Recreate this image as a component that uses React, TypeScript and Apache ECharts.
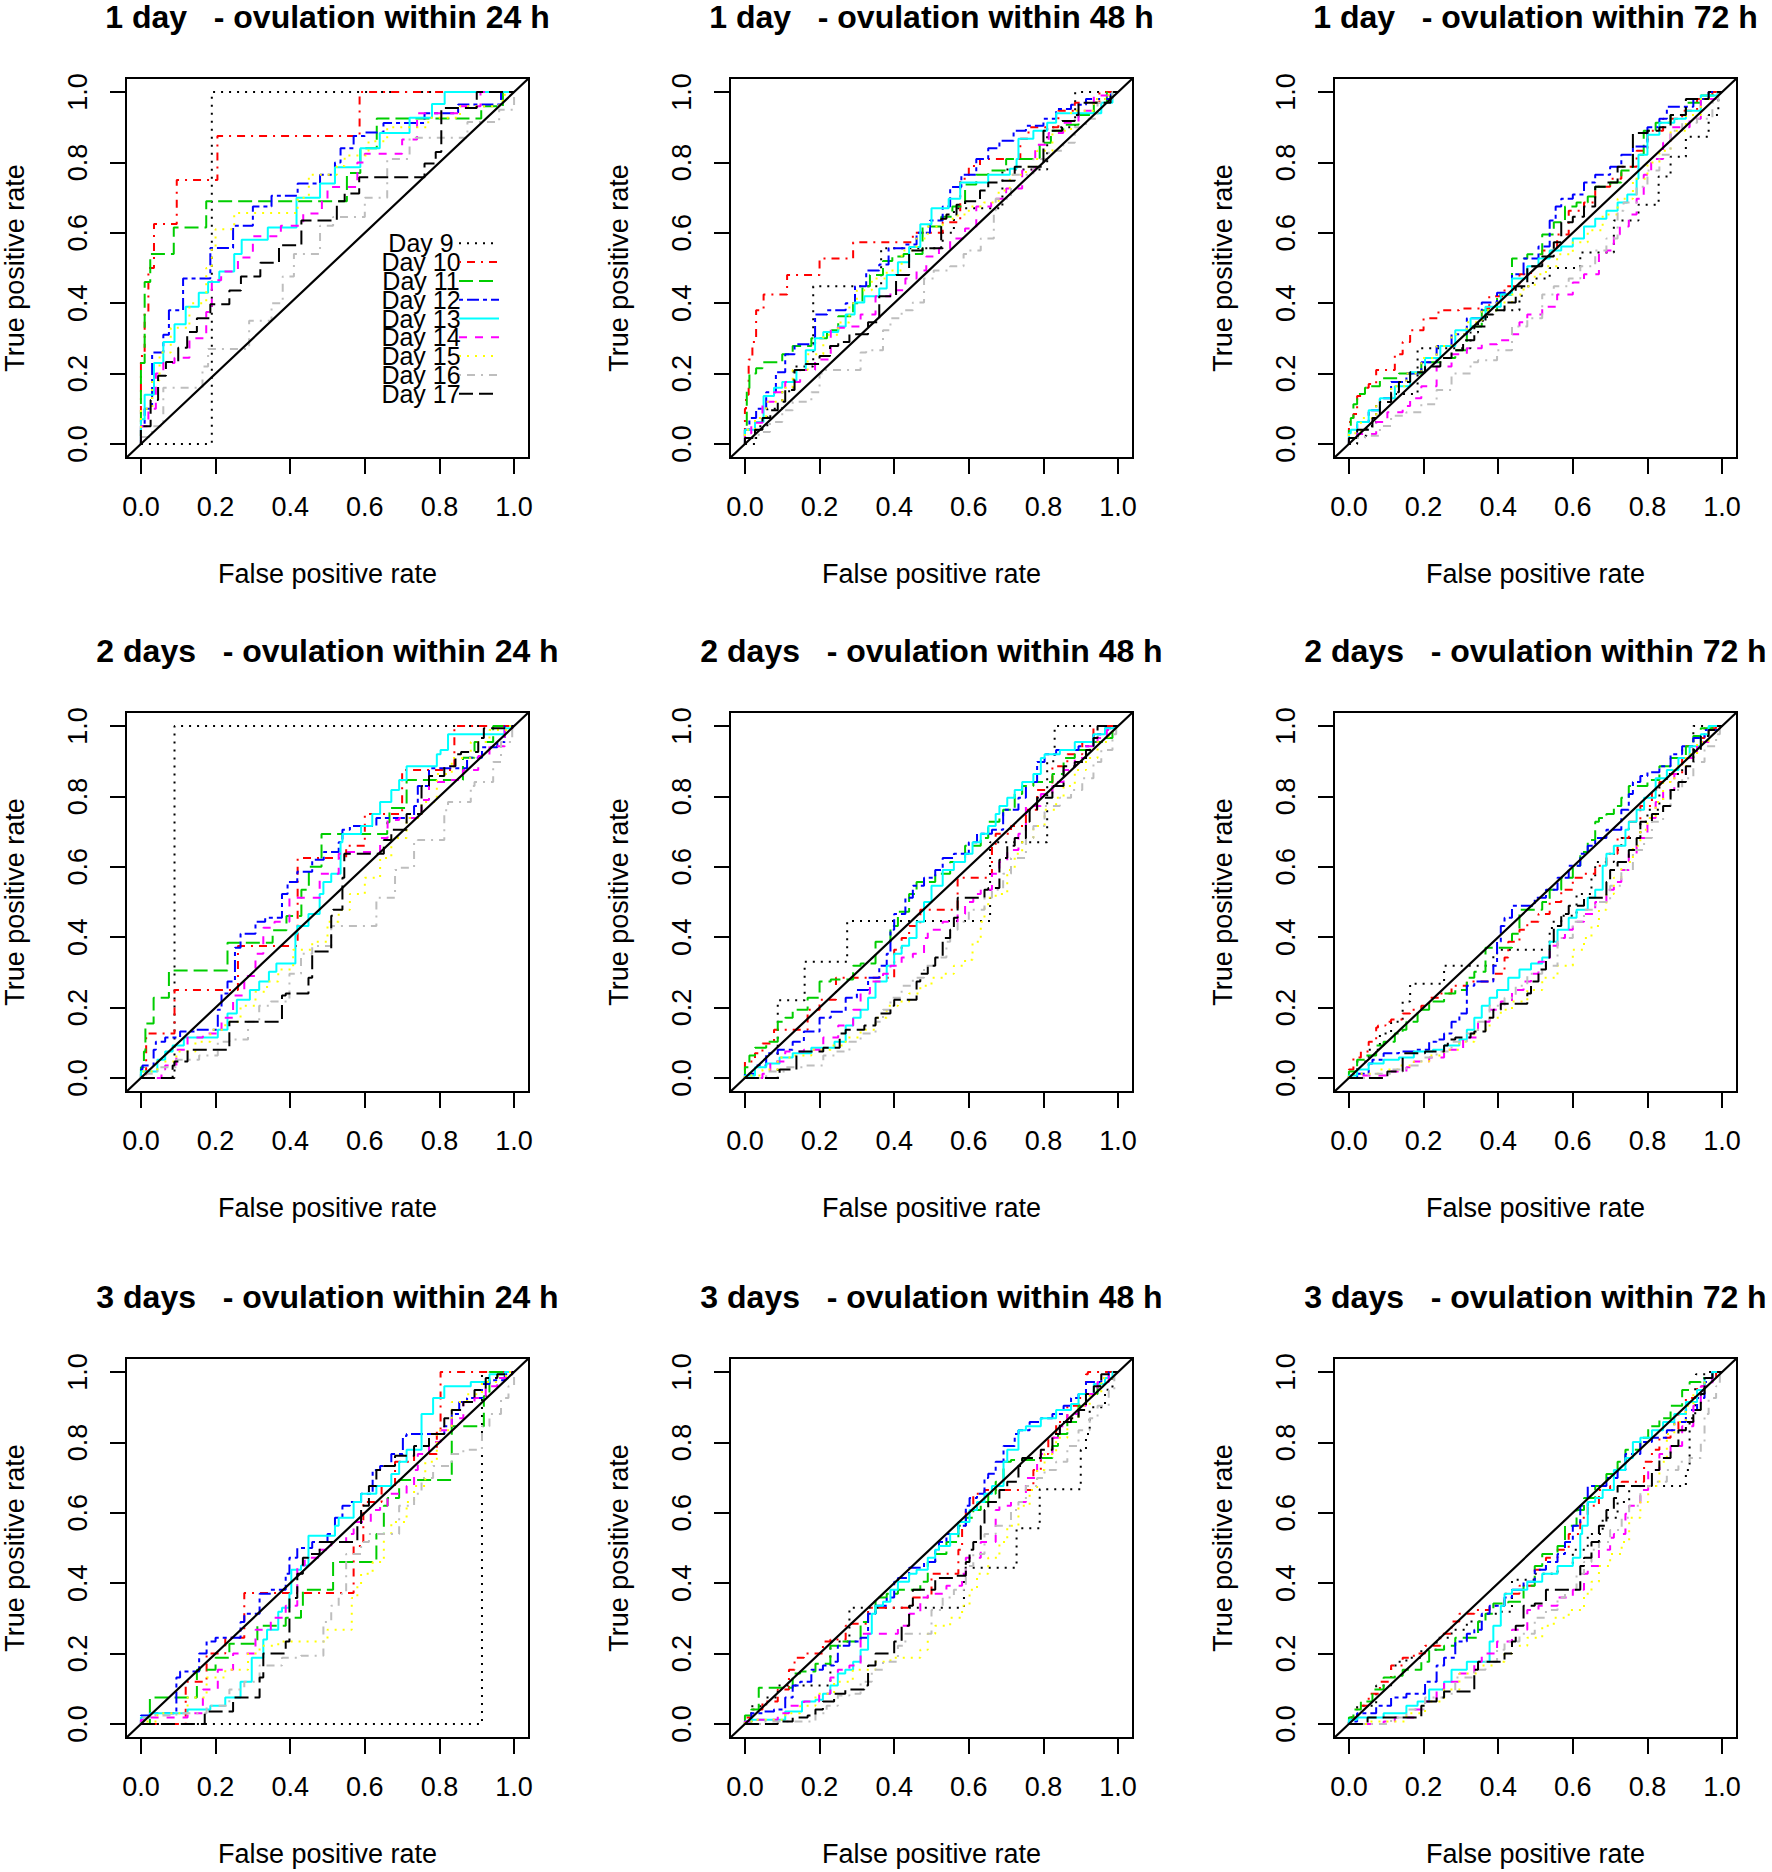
import React, { useEffect, useRef } from "react";
import * as echarts from "echarts";

// ---------- labels ----------
const dayNames = ["Day 9", "Day 10", "Day 11", "Day 12", "Day 13", "Day 14", "Day 15", "Day 16", "Day 17"];
const panelTitles = [
  "1 day   - ovulation within 24 h", "1 day   - ovulation within 48 h", "1 day   - ovulation within 72 h",
  "2 days   - ovulation within 24 h", "2 days   - ovulation within 48 h", "2 days   - ovulation within 72 h",
  "3 days   - ovulation within 24 h", "3 days   - ovulation within 48 h", "3 days   - ovulation within 72 h",
];
const tickValues = [0, 0.2, 0.4, 0.6, 0.8, 1.0];
const xAxisTitle = "False positive rate";
const yAxisTitle = "True positive rate";

// ---------- ROC curves: flat [fpr, tpr, ...] step vertices, one list per day ----------
const roc1d24 = [
  [0,0, 0.19,0, 1,1],
  [0,0, 0.01,0.25, 0.02,0.375, 0.035,0.5, 0.096,0.625, 0.205,0.75, 0.586,0.875, 1,1],
  [0,0, 0.01,0.23, 0.025,0.46, 0.088,0.54, 0.175,0.615, 0.552,0.69, 0.588,0.77, 0.632,0.84, 0.912,0.925, 0.97,0.96, 1,1],
  [0,0, 0.01,0.05, 0.03,0.1, 0.06,0.26, 0.075,0.31, 0.113,0.38, 0.186,0.47, 0.247,0.557, 0.3,0.62, 0.35,0.675, 0.42,0.705, 0.48,0.74, 0.52,0.765, 0.535,0.8, 0.57,0.84, 0.6,0.875, 0.65,0.885, 0.76,0.912, 0.85,0.94, 0.965,0.965, 1,1],
  [0,0, 0.01,0.07, 0.035,0.14, 0.06,0.23, 0.09,0.29, 0.12,0.34, 0.155,0.39, 0.18,0.43, 0.21,0.46, 0.25,0.49, 0.27,0.54, 0.34,0.58, 0.417,0.615, 0.48,0.7, 0.52,0.74, 0.588,0.786, 0.64,0.84, 0.72,0.884, 0.78,0.927, 0.814,0.966, 1,1],
  [0,0, 0.02,0.05, 0.04,0.1, 0.06,0.2, 0.09,0.23, 0.13,0.245, 0.175,0.3, 0.19,0.375, 0.215,0.465, 0.26,0.49, 0.3,0.53, 0.375,0.59, 0.435,0.62, 0.485,0.655, 0.5,0.69, 0.58,0.73, 0.6,0.8, 0.7,0.825, 0.74,0.865, 0.855,0.94, 0.91,0.96, 1,1],
  [0,0, 0.03,0.1, 0.05,0.18, 0.08,0.26, 0.13,0.33, 0.175,0.4, 0.19,0.5, 0.2,0.555, 0.25,0.61, 0.42,0.656, 0.45,0.7, 0.525,0.765, 0.546,0.79, 0.61,0.82, 0.66,0.86, 0.77,0.9, 0.855,0.927, 0.96,0.96, 0.975,0.975, 1,1],
  [0,0, 0.03,0.02, 0.06,0.05, 0.165,0.16, 0.18,0.22, 0.29,0.27, 0.35,0.35, 0.38,0.4, 0.41,0.476, 0.48,0.54, 0.515,0.62, 0.6,0.645, 0.66,0.7, 0.72,0.81, 0.875,0.87, 0.96,0.915, 1,0.95, 1,1],
  [0,0, 0.026,0.05, 0.046,0.125, 0.067,0.194, 0.1,0.233, 0.124,0.273, 0.15,0.318, 0.186,0.357, 0.237,0.397, 0.268,0.436, 0.32,0.476, 0.37,0.515, 0.43,0.565, 0.525,0.635, 0.546,0.69, 0.585,0.712, 0.76,0.758, 0.79,0.797, 0.805,0.83, 0.9,0.955, 1,1],
];

const roc1d48 = [
  [0,0, 0.03,0, 0.06,0.05, 0.1,0.1, 0.13,0.15, 0.183,0.22, 0.365,0.448, 0.53,0.556, 0.56,0.6, 0.69,0.67, 0.81,0.78, 0.885,0.9, 1,1],
  [0,0, 0.003,0.1, 0.01,0.14, 0.02,0.24, 0.03,0.29, 0.05,0.38, 0.113,0.425, 0.2,0.48, 0.29,0.527, 0.45,0.573, 0.53,0.6, 0.577,0.63, 0.6,0.754, 0.63,0.79, 0.738,0.81, 0.76,0.867, 0.84,0.9, 0.884,0.947, 0.95,0.97, 1,1],
  [0,0, 0.005,0.05, 0.012,0.15, 0.03,0.2, 0.047,0.215, 0.1,0.232, 0.128,0.255, 0.178,0.278, 0.22,0.3, 0.25,0.323, 0.29,0.363, 0.315,0.4, 0.335,0.448, 0.37,0.48, 0.395,0.52, 0.425,0.533, 0.476,0.54, 0.526,0.618, 0.556,0.646, 0.59,0.675, 0.62,0.737, 0.652,0.765, 0.7,0.777, 0.79,0.81, 0.82,0.856, 0.853,0.89, 0.894,0.907, 0.935,0.935, 0.97,0.97, 1,1],
  [0,0, 0.012,0.04, 0.03,0.074, 0.057,0.1, 0.083,0.147, 0.108,0.204, 0.133,0.255, 0.188,0.283, 0.22,0.368, 0.27,0.38, 0.295,0.4, 0.325,0.448, 0.36,0.493, 0.385,0.51, 0.43,0.556, 0.46,0.567, 0.496,0.6, 0.53,0.635, 0.55,0.675, 0.58,0.73, 0.62,0.765, 0.652,0.81, 0.682,0.84, 0.72,0.862, 0.753,0.89, 0.8,0.904, 0.834,0.924, 0.874,0.952, 0.914,0.964, 0.98,0.98, 1,1],
  [0,0, 0.027,0.04, 0.05,0.062, 0.078,0.136, 0.1,0.16, 0.138,0.176, 0.163,0.21, 0.188,0.266, 0.21,0.3, 0.25,0.318, 0.27,0.334, 0.294,0.368, 0.32,0.402, 0.36,0.42, 0.38,0.442, 0.41,0.48, 0.44,0.516, 0.47,0.56, 0.5,0.624, 0.546,0.67, 0.577,0.697, 0.652,0.743, 0.71,0.765, 0.728,0.782, 0.733,0.81, 0.773,0.867, 0.81,0.89, 0.834,0.913, 0.955,0.94, 0.985,0.97, 1,1],
  [0,0, 0.017,0.03, 0.047,0.06, 0.078,0.12, 0.108,0.147, 0.148,0.176, 0.188,0.21, 0.23,0.24, 0.27,0.33, 0.31,0.334, 0.35,0.368, 0.39,0.42, 0.43,0.437, 0.46,0.47, 0.486,0.493, 0.52,0.533, 0.55,0.556, 0.59,0.584, 0.62,0.612, 0.66,0.675, 0.7,0.697, 0.743,0.726, 0.778,0.777, 0.814,0.85, 0.853,0.884, 0.894,0.913, 0.935,0.947, 0.98,0.99, 1,1],
  [0,0, 0.027,0.04, 0.057,0.074, 0.1,0.12, 0.128,0.16, 0.168,0.21, 0.21,0.255, 0.25,0.31, 0.28,0.345, 0.3,0.4, 0.34,0.437, 0.38,0.47, 0.42,0.493, 0.46,0.55, 0.49,0.584, 0.53,0.618, 0.57,0.64, 0.6,0.652, 0.64,0.675, 0.68,0.686, 0.71,0.72, 0.753,0.765, 0.783,0.788, 0.824,0.833, 0.874,0.89, 0.935,0.947, 0.975,0.98, 1,1],
  [0,0, 0.037,0.017, 0.067,0.034, 0.1,0.062, 0.128,0.096, 0.178,0.12, 0.2,0.147, 0.214,0.2, 0.31,0.21, 0.325,0.26, 0.37,0.266, 0.39,0.323, 0.42,0.357, 0.45,0.38, 0.48,0.402, 0.506,0.47, 0.55,0.493, 0.586,0.505, 0.6,0.54, 0.632,0.55, 0.667,0.584, 0.672,0.663, 0.713,0.697, 0.773,0.765, 0.814,0.81, 0.853,0.833, 0.884,0.856, 0.914,0.9, 0.945,0.924, 0.985,0.97, 1,1],
  [0,0, 0.027,0.017, 0.047,0.04, 0.068,0.074, 0.088,0.096, 0.108,0.12, 0.133,0.153, 0.163,0.21, 0.2,0.227, 0.228,0.25, 0.25,0.278, 0.28,0.29, 0.33,0.312, 0.36,0.346, 0.405,0.42, 0.44,0.48, 0.476,0.55, 0.526,0.556, 0.54,0.64, 0.567,0.652, 0.59,0.68, 0.63,0.69, 0.652,0.72, 0.682,0.743, 0.723,0.748, 0.8,0.788, 0.85,0.89, 0.884,0.918, 0.894,0.935, 0.98,0.97, 1,1],
];

const roc1d72 = [
  [0,0, 0.022,0, 0.047,0.023, 0.073,0.051, 0.113,0.119, 0.184,0.142, 0.326,0.272, 0.346,0.317, 0.37,0.35, 0.457,0.38, 0.463,0.414, 0.493,0.448, 0.538,0.47, 0.62,0.5, 0.71,0.544, 0.776,0.635, 0.83,0.68, 0.862,0.76, 0.903,0.816, 0.964,0.873, 0.99,0.935, 1,1],
  [0,0, 0.012,0.062, 0.022,0.085, 0.043,0.136, 0.053,0.16, 0.073,0.17, 0.123,0.21, 0.144,0.255, 0.164,0.29, 0.2,0.323, 0.24,0.357, 0.295,0.38, 0.376,0.385, 0.417,0.42, 0.457,0.448, 0.488,0.482, 0.518,0.505, 0.558,0.55, 0.589,0.595, 0.63,0.663, 0.66,0.686, 0.7,0.731, 0.73,0.754, 0.771,0.788, 0.8,0.833, 0.842,0.89, 0.893,0.924, 0.933,0.947, 0.974,0.98, 1,1],
  [0,0, 0.005,0.045, 0.012,0.074, 0.022,0.113, 0.043,0.142, 0.058,0.16, 0.083,0.164, 0.134,0.187, 0.194,0.2, 0.255,0.232, 0.285,0.244, 0.316,0.266, 0.356,0.334, 0.397,0.38, 0.437,0.425, 0.478,0.527, 0.518,0.539, 0.549,0.595, 0.579,0.63, 0.61,0.675, 0.64,0.686, 0.66,0.703, 0.7,0.731, 0.73,0.743, 0.761,0.777, 0.79,0.822, 0.822,0.89, 0.862,0.913, 0.903,0.935, 0.943,0.97, 0.979,0.99, 1,1],
  [0,0, 0.022,0.017, 0.053,0.062, 0.083,0.096, 0.113,0.13, 0.154,0.176, 0.194,0.2, 0.235,0.232, 0.275,0.278, 0.316,0.312, 0.356,0.357, 0.397,0.402, 0.437,0.43, 0.468,0.482, 0.508,0.527, 0.538,0.561, 0.554,0.635, 0.569,0.675, 0.6,0.697, 0.63,0.709, 0.66,0.743, 0.7,0.765, 0.73,0.788, 0.761,0.822, 0.8,0.845, 0.832,0.9, 0.852,0.924, 0.923,0.958, 0.964,0.98, 0.99,1, 1,1],
  [0,0, 0.005,0.03, 0.022,0.04, 0.053,0.062, 0.083,0.096, 0.123,0.13, 0.164,0.164, 0.204,0.204, 0.245,0.244, 0.285,0.278, 0.326,0.323, 0.366,0.357, 0.407,0.39, 0.437,0.425, 0.478,0.47, 0.508,0.505, 0.538,0.527, 0.569,0.55, 0.6,0.561, 0.63,0.584, 0.66,0.618, 0.69,0.64, 0.72,0.663, 0.746,0.686, 0.771,0.709, 0.776,0.754, 0.8,0.822, 0.832,0.879, 0.872,0.913, 0.903,0.924, 0.943,0.947, 0.988,0.99, 1,1],
  [0,0, 0.022,0.017, 0.073,0.028, 0.103,0.062, 0.144,0.09, 0.164,0.108, 0.194,0.13, 0.235,0.164, 0.275,0.22, 0.316,0.255, 0.356,0.272, 0.397,0.283, 0.437,0.295, 0.457,0.312, 0.478,0.346, 0.518,0.368, 0.558,0.39, 0.6,0.425, 0.63,0.459, 0.67,0.482, 0.69,0.544, 0.71,0.55, 0.726,0.595, 0.75,0.618, 0.771,0.652, 0.79,0.697, 0.81,0.765, 0.842,0.81, 0.862,0.856, 0.913,0.9, 0.943,0.924, 0.984,0.98, 1,1],
  [0,0, 0.032,0.03, 0.073,0.074, 0.113,0.119, 0.154,0.164, 0.194,0.2, 0.235,0.244, 0.275,0.278, 0.316,0.312, 0.356,0.346, 0.397,0.38, 0.437,0.402, 0.468,0.425, 0.498,0.448, 0.528,0.482, 0.558,0.505, 0.6,0.539, 0.64,0.573, 0.68,0.607, 0.72,0.652, 0.761,0.697, 0.8,0.754, 0.832,0.8, 0.862,0.833, 0.903,0.89, 0.943,0.935, 0.984,0.98, 1,1],
  [0,0, 0.043,0.017, 0.083,0.023, 0.113,0.051, 0.154,0.08, 0.194,0.09, 0.235,0.113, 0.275,0.153, 0.326,0.2, 0.346,0.232, 0.397,0.238, 0.437,0.266, 0.478,0.334, 0.518,0.357, 0.549,0.425, 0.589,0.448, 0.62,0.47, 0.66,0.505, 0.69,0.55, 0.72,0.584, 0.736,0.663, 0.771,0.686, 0.8,0.731, 0.832,0.777, 0.862,0.822, 0.893,0.89, 0.933,0.913, 0.974,0.924, 0.99,0.97, 1,1],
  [0,0, 0.022,0.017, 0.063,0.04, 0.083,0.074, 0.113,0.119, 0.134,0.147, 0.164,0.176, 0.204,0.204, 0.245,0.22, 0.275,0.244, 0.306,0.266, 0.336,0.295, 0.366,0.334, 0.387,0.368, 0.417,0.38, 0.447,0.402, 0.478,0.448, 0.518,0.505, 0.549,0.533, 0.569,0.573, 0.6,0.63, 0.63,0.646, 0.66,0.675, 0.69,0.731, 0.72,0.743, 0.761,0.788, 0.8,0.884, 0.832,0.89, 0.862,0.9, 0.903,0.935, 0.964,0.98, 0.984,1, 1,1],
];

const roc2d24 = [
  [0,0, 0.09,0, 1,1],
  [0,0, 0.014,0, 0.09,0.126, 0.26,0.25, 0.42,0.375, 0.55,0.625, 0.6,0.66, 0.7,0.75, 0.84,0.875, 1,1],
  [0,0, 0.008,0.03, 0.012,0.075, 0.034,0.155, 0.075,0.228, 0.232,0.305, 0.353,0.384, 0.39,0.42, 0.43,0.46, 0.45,0.535, 0.484,0.6, 0.66,0.693, 0.666,0.727, 0.712,0.767, 0.863,0.847, 0.894,0.91, 0.944,0.955, 1,1],
  [0,0, 0.004,0.024, 0.034,0.035, 0.04,0.08, 0.065,0.103, 0.105,0.115, 0.146,0.132, 0.206,0.137, 0.216,0.194, 0.232,0.24, 0.252,0.274, 0.267,0.37, 0.307,0.41, 0.333,0.444, 0.378,0.455, 0.393,0.523, 0.419,0.557, 0.459,0.586, 0.49,0.62, 0.53,0.642, 0.54,0.67, 0.56,0.705, 0.631,0.716, 0.732,0.739, 0.742,0.773, 0.772,0.83, 0.788,0.88, 0.874,0.88, 0.914,0.91, 0.955,0.94, 0.975,0.955, 0.995,1, 1,1],
  [0,0, 0.004,0.018, 0.044,0.018, 0.065,0.052, 0.085,0.075, 0.115,0.092, 0.14,0.115, 0.206,0.115, 0.232,0.137, 0.257,0.183, 0.292,0.222, 0.317,0.25, 0.343,0.274, 0.363,0.302, 0.393,0.325, 0.414,0.325, 0.419,0.41, 0.449,0.432, 0.479,0.466, 0.489,0.523, 0.51,0.557, 0.535,0.58, 0.54,0.67, 0.59,0.693, 0.62,0.716, 0.641,0.75, 0.671,0.784, 0.692,0.818, 0.712,0.847, 0.717,0.886, 0.793,0.886, 0.803,0.92, 0.823,0.932, 0.848,0.977, 0.975,0.977, 0.995,0.994, 1,1],
  [0,0, 0.055,0, 0.065,0.024, 0.095,0.035, 0.125,0.08, 0.166,0.115, 0.216,0.126, 0.247,0.171, 0.277,0.234, 0.307,0.29, 0.328,0.353, 0.358,0.427, 0.398,0.444, 0.419,0.512, 0.479,0.512, 0.489,0.58, 0.53,0.58, 0.54,0.637, 0.641,0.642, 0.661,0.682, 0.692,0.733, 0.752,0.739, 0.772,0.79, 0.823,0.841, 0.863,0.847, 0.904,0.875, 0.934,0.915, 0.975,0.943, 0.995,0.989, 1,1],
  [0,0, 0.044,0.018, 0.095,0.047, 0.146,0.075, 0.186,0.103, 0.226,0.137, 0.267,0.16, 0.307,0.205, 0.338,0.245, 0.368,0.274, 0.408,0.308, 0.459,0.364, 0.5,0.387, 0.53,0.444, 0.56,0.478, 0.6,0.523, 0.641,0.569, 0.671,0.625, 0.712,0.682, 0.752,0.739, 0.793,0.784, 0.833,0.864, 0.884,0.909, 0.934,0.955, 0.985,0.989, 1,1],
  [0,0, 0.044,0.012, 0.095,0.03, 0.156,0.052, 0.206,0.064, 0.237,0.103, 0.287,0.109, 0.317,0.16, 0.348,0.205, 0.398,0.217, 0.429,0.296, 0.459,0.353, 0.51,0.375, 0.53,0.432, 0.631,0.432, 0.641,0.512, 0.681,0.512, 0.692,0.591, 0.732,0.597, 0.742,0.67, 0.813,0.676, 0.823,0.761, 0.884,0.784, 0.894,0.83, 0.944,0.841, 0.965,0.898, 0.995,0.955, 1,1],
  [0,0, 0.085,0, 0.09,0.035, 0.125,0.047, 0.13,0.08, 0.237,0.08, 0.247,0.16, 0.378,0.16, 0.388,0.234, 0.449,0.24, 0.459,0.285, 0.464,0.359, 0.51,0.359, 0.515,0.461, 0.54,0.478, 0.545,0.569, 0.59,0.637, 0.651,0.637, 0.671,0.676, 0.712,0.705, 0.752,0.75, 0.772,0.83, 0.813,0.858, 0.843,0.886, 0.858,0.92, 0.904,0.926, 0.919,0.966, 0.995,0.994, 1,1],
];

const roc2d48 = [
  [0,0, 0.088,0, 0.16,0.221, 0.274,0.33, 0.657,0.446, 0.81,0.67, 0.83,0.9, 1,1],
  [0,0, 0.027,0.047, 0.047,0.07, 0.078,0.098, 0.093,0.137, 0.168,0.137, 0.2,0.194, 0.244,0.222, 0.27,0.285, 0.4,0.285, 0.42,0.364, 0.44,0.398, 0.47,0.432, 0.49,0.478, 0.57,0.478, 0.597,0.569, 0.662,0.569, 0.672,0.66, 0.713,0.694, 0.753,0.716, 0.783,0.762, 0.824,0.818, 0.864,0.886, 0.904,0.92, 0.934,0.955, 0.945,1, 1,1],
  [0,0, 0.012,0.03, 0.027,0.064, 0.057,0.086, 0.088,0.103, 0.108,0.16, 0.128,0.171, 0.168,0.194, 0.2,0.228, 0.23,0.274, 0.29,0.28, 0.31,0.319, 0.35,0.325, 0.39,0.387, 0.41,0.432, 0.44,0.472, 0.46,0.523, 0.51,0.557, 0.55,0.58, 0.59,0.614, 0.632,0.66, 0.652,0.682, 0.682,0.728, 0.692,0.739, 0.723,0.762, 0.743,0.807, 0.773,0.83, 0.824,0.841, 0.854,0.864, 0.884,0.909, 0.924,0.932, 0.965,0.955, 0.985,0.966, 1,1],
  [0,0, 0.027,0.012, 0.057,0.035, 0.088,0.07, 0.128,0.08, 0.158,0.103, 0.2,0.132, 0.23,0.171, 0.27,0.188, 0.3,0.228, 0.33,0.25, 0.36,0.285, 0.38,0.319, 0.39,0.353, 0.4,0.421, 0.43,0.466, 0.45,0.512, 0.48,0.546, 0.51,0.569, 0.53,0.591, 0.56,0.625, 0.6,0.637, 0.622,0.67, 0.662,0.694, 0.692,0.705, 0.733,0.762, 0.753,0.796, 0.783,0.841, 0.803,0.898, 0.834,0.92, 0.894,0.932, 0.934,0.943, 0.965,0.977, 0.985,0.994, 1,1],
  [0,0, 0.027,0.007, 0.057,0.03, 0.093,0.041, 0.128,0.058, 0.178,0.07, 0.24,0.086, 0.27,0.103, 0.29,0.149, 0.31,0.171, 0.33,0.194, 0.35,0.228, 0.38,0.274, 0.4,0.319, 0.42,0.353, 0.44,0.376, 0.46,0.398, 0.48,0.444, 0.5,0.5, 0.53,0.546, 0.56,0.591, 0.59,0.614, 0.61,0.637, 0.632,0.67, 0.652,0.694, 0.672,0.716, 0.682,0.75, 0.703,0.773, 0.723,0.796, 0.743,0.818, 0.773,0.841, 0.793,0.864, 0.803,0.909, 0.844,0.92, 0.884,0.932, 0.934,0.955, 0.965,0.977, 0.99,0.994, 1,1],
  [0,0, 0.047,0, 0.068,0.012, 0.108,0.047, 0.158,0.075, 0.21,0.08, 0.25,0.115, 0.29,0.149, 0.31,0.194, 0.335,0.24, 0.37,0.274, 0.39,0.296, 0.42,0.319, 0.45,0.342, 0.48,0.353, 0.49,0.398, 0.53,0.421, 0.57,0.444, 0.59,0.466, 0.612,0.5, 0.632,0.523, 0.662,0.535, 0.682,0.58, 0.703,0.614, 0.733,0.648, 0.753,0.694, 0.793,0.773, 0.824,0.807, 0.854,0.841, 0.884,0.875, 0.914,0.909, 0.945,0.943, 0.97,0.966, 0.99,0.989, 1,1],
  [0,0, 0.047,0.007, 0.088,0.024, 0.128,0.058, 0.178,0.064, 0.23,0.08, 0.27,0.092, 0.31,0.115, 0.35,0.137, 0.38,0.171, 0.41,0.205, 0.44,0.217, 0.47,0.24, 0.5,0.262, 0.53,0.285, 0.56,0.296, 0.59,0.319, 0.61,0.336, 0.632,0.387, 0.642,0.444, 0.652,0.489, 0.672,0.512, 0.703,0.523, 0.723,0.591, 0.743,0.637, 0.773,0.682, 0.803,0.716, 0.834,0.762, 0.854,0.796, 0.884,0.83, 0.914,0.875, 0.945,0.909, 0.975,0.955, 0.995,0.983, 1,1],
  [0,0, 0.057,0, 0.108,0.018, 0.158,0.03, 0.21,0.035, 0.24,0.064, 0.28,0.075, 0.31,0.103, 0.35,0.126, 0.37,0.16, 0.39,0.194, 0.42,0.228, 0.45,0.262, 0.48,0.285, 0.51,0.319, 0.54,0.342, 0.55,0.387, 0.57,0.421, 0.6,0.444, 0.642,0.478, 0.662,0.512, 0.692,0.535, 0.713,0.58, 0.753,0.625, 0.773,0.682, 0.803,0.716, 0.844,0.773, 0.874,0.796, 0.904,0.818, 0.934,0.852, 0.955,0.898, 0.985,0.932, 0.995,0.977, 1,1],
  [0,0, 0.093,0, 0.098,0.024, 0.138,0.024, 0.143,0.075, 0.21,0.075, 0.254,0.086, 0.27,0.126, 0.32,0.137, 0.35,0.149, 0.36,0.171, 0.39,0.183, 0.4,0.205, 0.46,0.222, 0.47,0.274, 0.49,0.296, 0.51,0.319, 0.53,0.342, 0.55,0.398, 0.56,0.421, 0.57,0.455, 0.59,0.512, 0.642,0.512, 0.652,0.535, 0.682,0.54, 0.687,0.62, 0.703,0.625, 0.723,0.66, 0.753,0.682, 0.763,0.728, 0.783,0.762, 0.824,0.796, 0.854,0.83, 0.884,0.886, 0.914,0.898, 0.934,0.932, 0.945,0.966, 0.985,1, 1,1],
];

const roc2d72 = [
  [0,0, 0.022,0.012, 0.053,0.047, 0.083,0.08, 0.113,0.126, 0.144,0.16, 0.164,0.217, 0.194,0.268, 0.255,0.268, 0.275,0.319, 0.387,0.319, 0.397,0.353, 0.447,0.364, 0.538,0.364, 0.544,0.421, 0.569,0.444, 0.61,0.461, 0.65,0.523, 0.66,0.569, 0.71,0.614, 0.73,0.648, 0.781,0.682, 0.8,0.728, 0.832,0.762, 0.852,0.841, 0.893,0.864, 0.923,0.909, 0.938,1, 1,1],
  [0,0, 0.012,0.024, 0.032,0.058, 0.053,0.075, 0.073,0.103, 0.078,0.143, 0.098,0.149, 0.113,0.16, 0.144,0.166, 0.164,0.183, 0.194,0.194, 0.215,0.205, 0.245,0.228, 0.275,0.24, 0.316,0.262, 0.346,0.274, 0.387,0.274, 0.417,0.296, 0.427,0.342, 0.457,0.387, 0.478,0.421, 0.508,0.444, 0.538,0.466, 0.569,0.5, 0.6,0.535, 0.63,0.569, 0.66,0.58, 0.69,0.603, 0.72,0.637, 0.75,0.682, 0.781,0.728, 0.812,0.773, 0.832,0.818, 0.862,0.841, 0.893,0.864, 0.923,0.943, 0.953,0.966, 0.984,0.994, 1,1],
  [0,0, 0.022,0.018, 0.043,0.052, 0.073,0.064, 0.093,0.092, 0.123,0.103, 0.144,0.126, 0.154,0.137, 0.184,0.16, 0.215,0.194, 0.255,0.217, 0.285,0.24, 0.316,0.25, 0.336,0.285, 0.366,0.302, 0.397,0.37, 0.437,0.37, 0.457,0.41, 0.478,0.478, 0.518,0.478, 0.538,0.5, 0.569,0.535, 0.6,0.569, 0.62,0.603, 0.64,0.642, 0.66,0.676, 0.67,0.728, 0.69,0.739, 0.71,0.75, 0.73,0.773, 0.75,0.796, 0.771,0.83, 0.8,0.83, 0.832,0.847, 0.862,0.886, 0.903,0.909, 0.923,0.943, 0.943,0.972, 0.974,0.994, 1,1],
  [0,0, 0.022,0, 0.053,0.012, 0.063,0.041, 0.093,0.052, 0.134,0.07, 0.174,0.075, 0.215,0.08, 0.235,0.103, 0.255,0.109, 0.275,0.126, 0.296,0.16, 0.316,0.183, 0.336,0.262, 0.356,0.274, 0.387,0.274, 0.397,0.319, 0.407,0.387, 0.417,0.432, 0.437,0.455, 0.468,0.489, 0.498,0.489, 0.528,0.512, 0.559,0.535, 0.589,0.569, 0.62,0.603, 0.64,0.637, 0.66,0.66, 0.69,0.682, 0.73,0.705, 0.75,0.762, 0.761,0.807, 0.781,0.841, 0.8,0.858, 0.832,0.869, 0.862,0.886, 0.893,0.92, 0.923,0.943, 0.953,0.966, 0.984,0.989, 1,1],
  [0,0, 0.022,0.007, 0.053,0.024, 0.093,0.041, 0.134,0.052, 0.174,0.058, 0.225,0.075, 0.255,0.08, 0.296,0.092, 0.316,0.109, 0.336,0.137, 0.356,0.171, 0.377,0.205, 0.397,0.228, 0.427,0.25, 0.457,0.285, 0.488,0.308, 0.518,0.325, 0.538,0.342, 0.559,0.387, 0.589,0.421, 0.61,0.455, 0.64,0.478, 0.66,0.512, 0.68,0.535, 0.69,0.603, 0.71,0.637, 0.741,0.66, 0.75,0.705, 0.771,0.728, 0.791,0.762, 0.822,0.796, 0.852,0.852, 0.883,0.875, 0.913,0.909, 0.943,0.943, 0.964,0.977, 1,1],
  [0,0, 0.022,0, 0.113,0.007, 0.154,0.018, 0.174,0.03, 0.215,0.047, 0.255,0.058, 0.306,0.08, 0.346,0.115, 0.377,0.16, 0.407,0.194, 0.437,0.217, 0.468,0.25, 0.488,0.274, 0.508,0.296, 0.538,0.33, 0.559,0.376, 0.579,0.398, 0.6,0.421, 0.63,0.444, 0.66,0.466, 0.69,0.5, 0.71,0.535, 0.73,0.557, 0.75,0.591, 0.771,0.637, 0.8,0.682, 0.822,0.739, 0.842,0.784, 0.872,0.818, 0.903,0.864, 0.933,0.909, 0.964,0.955, 0.994,0.989, 1,1],
  [0,0, 0.083,0.012, 0.134,0.024, 0.174,0.035, 0.215,0.047, 0.255,0.064, 0.296,0.08, 0.336,0.103, 0.377,0.137, 0.407,0.171, 0.437,0.194, 0.478,0.217, 0.518,0.25, 0.559,0.285, 0.6,0.319, 0.63,0.364, 0.65,0.398, 0.67,0.432, 0.69,0.478, 0.71,0.523, 0.73,0.569, 0.761,0.614, 0.781,0.66, 0.8,0.705, 0.822,0.739, 0.842,0.784, 0.872,0.841, 0.903,0.886, 0.933,0.92, 0.964,0.955, 0.994,0.989, 1,1],
  [0,0, 0.053,0, 0.113,0.012, 0.154,0.024, 0.194,0.035, 0.235,0.058, 0.275,0.075, 0.316,0.103, 0.346,0.126, 0.377,0.16, 0.417,0.205, 0.447,0.228, 0.478,0.262, 0.518,0.296, 0.559,0.319, 0.6,0.398, 0.63,0.444, 0.66,0.478, 0.7,0.5, 0.73,0.546, 0.761,0.591, 0.791,0.648, 0.812,0.682, 0.842,0.728, 0.862,0.773, 0.893,0.818, 0.923,0.852, 0.953,0.898, 0.984,0.943, 0.994,0.977, 1,1],
  [0,0, 0.103,0, 0.113,0.018, 0.144,0.018, 0.149,0.07, 0.204,0.07, 0.255,0.075, 0.265,0.092, 0.285,0.109, 0.326,0.115, 0.336,0.126, 0.366,0.132, 0.387,0.171, 0.407,0.194, 0.437,0.211, 0.478,0.211, 0.488,0.24, 0.508,0.274, 0.528,0.308, 0.538,0.342, 0.549,0.387, 0.569,0.432, 0.589,0.466, 0.63,0.489, 0.65,0.512, 0.69,0.512, 0.7,0.557, 0.72,0.591, 0.75,0.614, 0.771,0.648, 0.781,0.682, 0.812,0.728, 0.842,0.75, 0.862,0.773, 0.883,0.818, 0.903,0.841, 0.923,0.886, 0.943,0.932, 0.964,0.972, 0.984,0.989, 1,1],
];

const roc3d24 = [
  [0,0, 0.914,0, 1,1],
  [0,0, 0.12,0, 0.176,0.12, 0.226,0.2, 0.277,0.245, 0.57,0.372, 0.596,0.506, 0.645,0.631, 0.681,0.676, 0.732,0.745, 0.793,0.767, 0.803,0.835, 1,1],
  [0,0, 0.024,0, 0.15,0.075, 0.2,0.154, 0.237,0.188, 0.312,0.228, 0.388,0.279, 0.429,0.302, 0.434,0.33, 0.515,0.381, 0.631,0.46, 0.651,0.54, 0.661,0.62, 0.692,0.642, 0.833,0.693, 0.919,0.846, 0.934,0.932, 1,1],
  [0,0, 0.024,0.024, 0.095,0.03, 0.105,0.132, 0.156,0.149, 0.176,0.2, 0.2,0.234, 0.267,0.245, 0.277,0.29, 0.318,0.313, 0.348,0.37, 0.388,0.381, 0.398,0.427, 0.419,0.472, 0.459,0.5, 0.5,0.517, 0.52,0.54, 0.54,0.586, 0.56,0.62, 0.59,0.631, 0.621,0.654, 0.641,0.722, 0.671,0.733, 0.702,0.767, 0.712,0.818, 0.742,0.824, 0.813,0.824, 0.833,0.846, 0.853,0.881, 0.874,0.915, 0.914,0.926, 0.934,0.966, 0.975,0.977, 0.995,0.994, 1,1],
  [0,0, 0.024,0.018, 0.125,0.03, 0.186,0.041, 0.226,0.052, 0.267,0.075, 0.297,0.12, 0.328,0.188, 0.338,0.24, 0.368,0.268, 0.378,0.319, 0.398,0.33, 0.403,0.37, 0.429,0.438, 0.449,0.45, 0.479,0.535, 0.52,0.535, 0.53,0.563, 0.57,0.586, 0.59,0.631, 0.631,0.654, 0.671,0.676, 0.692,0.71, 0.712,0.745, 0.752,0.779, 0.783,0.881, 0.813,0.926, 0.884,0.96, 0.934,0.972, 0.975,0.994, 1,1],
  [0,0, 0.024,0.012, 0.125,0.018, 0.166,0.03, 0.206,0.098, 0.247,0.154, 0.307,0.2, 0.348,0.268, 0.388,0.302, 0.419,0.336, 0.439,0.45, 0.479,0.472, 0.51,0.495, 0.55,0.517, 0.57,0.54, 0.616,0.574, 0.641,0.608, 0.661,0.62, 0.712,0.654, 0.732,0.676, 0.742,0.722, 0.772,0.767, 0.803,0.801, 0.833,0.835, 0.864,0.869, 0.894,0.915, 0.924,0.926, 0.955,0.96, 0.985,0.983, 1,1],
  [0,0, 0.044,0.007, 0.125,0.03, 0.176,0.075, 0.226,0.132, 0.287,0.154, 0.318,0.2, 0.368,0.222, 0.429,0.234, 0.5,0.234, 0.53,0.268, 0.565,0.268, 0.58,0.358, 0.59,0.393, 0.621,0.427, 0.651,0.46, 0.671,0.54, 0.712,0.574, 0.732,0.631, 0.762,0.676, 0.793,0.745, 0.833,0.835, 0.874,0.915, 0.914,0.937, 0.955,0.972, 0.985,0.989, 1,1],
  [0,0, 0.034,0.018, 0.095,0.024, 0.176,0.03, 0.237,0.052, 0.277,0.098, 0.318,0.12, 0.378,0.166, 0.429,0.188, 0.489,0.194, 0.51,0.29, 0.53,0.336, 0.55,0.37, 0.59,0.483, 0.611,0.517, 0.631,0.54, 0.692,0.54, 0.732,0.62, 0.752,0.654, 0.783,0.699, 0.833,0.733, 0.864,0.767, 0.914,0.779, 0.934,0.846, 0.965,0.881, 0.985,0.926, 1,0.96, 1,1],
  [0,0, 0.171,0, 0.247,0.035, 0.318,0.075, 0.328,0.132, 0.388,0.2, 0.398,0.234, 0.419,0.358, 0.434,0.427, 0.449,0.472, 0.479,0.483, 0.58,0.517, 0.59,0.563, 0.611,0.62, 0.631,0.676, 0.651,0.722, 0.681,0.733, 0.732,0.762, 0.772,0.79, 0.813,0.824, 0.833,0.869, 0.864,0.892, 0.894,0.915, 0.924,0.949, 0.955,0.983, 0.995,0.994, 1,1],
];

const roc3d48 = [
  [0,0, 0.017,0, 0.057,0.05, 0.088,0.075, 0.229,0.109, 0.28,0.234, 0.587,0.33, 0.728,0.444, 0.79,0.556, 0.9,0.667, 0.914,0.779, 0.924,0.824, 0.965,0.9, 0.985,0.95, 1,1],
  [0,0, 0.017,0.018, 0.047,0.041, 0.088,0.064, 0.118,0.098, 0.133,0.154, 0.158,0.188, 0.209,0.2, 0.229,0.234, 0.27,0.24, 0.28,0.279, 0.33,0.285, 0.35,0.33, 0.45,0.33, 0.5,0.359, 0.53,0.427, 0.572,0.427, 0.582,0.495, 0.592,0.563, 0.612,0.608, 0.642,0.654, 0.773,0.665, 0.793,0.722, 0.813,0.767, 0.834,0.813, 0.864,0.858, 0.894,0.904, 0.914,0.926, 0.919,0.994, 1,1],
  [0,0, 0.017,0.024, 0.037,0.041, 0.062,0.103, 0.128,0.103, 0.148,0.143, 0.189,0.149, 0.229,0.171, 0.259,0.222, 0.31,0.234, 0.33,0.29, 0.35,0.313, 0.38,0.359, 0.41,0.37, 0.47,0.381, 0.49,0.404, 0.51,0.46, 0.54,0.483, 0.572,0.517, 0.592,0.563, 0.612,0.586, 0.632,0.608, 0.652,0.631, 0.672,0.654, 0.693,0.688, 0.713,0.745, 0.793,0.75, 0.824,0.756, 0.839,0.79, 0.864,0.824, 0.894,0.858, 0.914,0.904, 0.945,0.938, 0.965,0.96, 0.985,0.983, 1,1],
  [0,0, 0.017,0.007, 0.047,0.03, 0.078,0.035, 0.108,0.041, 0.128,0.075, 0.148,0.109, 0.178,0.12, 0.209,0.154, 0.239,0.166, 0.249,0.177, 0.28,0.222, 0.31,0.234, 0.33,0.245, 0.35,0.313, 0.38,0.336, 0.4,0.359, 0.41,0.404, 0.44,0.415, 0.48,0.444, 0.51,0.46, 0.52,0.495, 0.54,0.517, 0.572,0.54, 0.592,0.563, 0.602,0.62, 0.622,0.642, 0.642,0.654, 0.652,0.699, 0.672,0.711, 0.693,0.745, 0.723,0.79, 0.733,0.824, 0.763,0.835, 0.793,0.858, 0.824,0.869, 0.854,0.881, 0.874,0.904, 0.894,0.926, 0.914,0.938, 0.955,0.972, 0.975,0.983, 1,1],
  [0,0, 0.017,0.007, 0.108,0.012, 0.153,0.035, 0.189,0.064, 0.209,0.069, 0.229,0.086, 0.249,0.109, 0.269,0.143, 0.29,0.154, 0.31,0.177, 0.33,0.211, 0.34,0.256, 0.35,0.313, 0.37,0.336, 0.39,0.347, 0.41,0.381, 0.44,0.404, 0.46,0.427, 0.49,0.438, 0.51,0.472, 0.52,0.495, 0.55,0.506, 0.572,0.54, 0.602,0.574, 0.622,0.608, 0.642,0.631, 0.662,0.654, 0.693,0.676, 0.703,0.745, 0.733,0.779, 0.753,0.835, 0.793,0.846, 0.834,0.869, 0.874,0.892, 0.894,0.909, 0.935,0.938, 0.965,0.966, 0.985,0.983, 1,1],
  [0,0, 0.017,0.007, 0.088,0.012, 0.118,0.03, 0.158,0.052, 0.199,0.064, 0.229,0.086, 0.249,0.132, 0.28,0.154, 0.31,0.166, 0.345,0.256, 0.41,0.256, 0.44,0.279, 0.47,0.313, 0.49,0.359, 0.54,0.37, 0.582,0.393, 0.592,0.427, 0.632,0.472, 0.642,0.517, 0.672,0.517, 0.682,0.608, 0.713,0.62, 0.753,0.631, 0.783,0.699, 0.793,0.745, 0.824,0.767, 0.844,0.813, 0.864,0.846, 0.894,0.881, 0.914,0.904, 0.945,0.938, 0.975,0.972, 1,1],
  [0,0, 0.027,0.007, 0.108,0.012, 0.148,0.03, 0.189,0.052, 0.239,0.086, 0.289,0.12, 0.35,0.154, 0.39,0.177, 0.43,0.188, 0.47,0.188, 0.49,0.211, 0.51,0.256, 0.55,0.279, 0.582,0.302, 0.602,0.336, 0.622,0.381, 0.652,0.427, 0.682,0.472, 0.703,0.517, 0.733,0.563, 0.763,0.62, 0.783,0.665, 0.803,0.722, 0.834,0.767, 0.864,0.813, 0.894,0.869, 0.924,0.904, 0.955,0.938, 0.985,0.983, 1,1],
  [0,0, 0.047,0, 0.189,0.007, 0.219,0.03, 0.249,0.052, 0.28,0.081, 0.31,0.086, 0.34,0.12, 0.37,0.154, 0.41,0.177, 0.43,0.222, 0.46,0.256, 0.5,0.256, 0.53,0.324, 0.56,0.359, 0.592,0.381, 0.612,0.449, 0.642,0.483, 0.672,0.54, 0.713,0.563, 0.733,0.608, 0.753,0.631, 0.783,0.676, 0.803,0.699, 0.834,0.722, 0.864,0.745, 0.894,0.79, 0.924,0.835, 0.945,0.869, 0.975,0.904, 0.99,0.949, 1,1],
  [0,0, 0.088,0, 0.128,0.007, 0.168,0.018, 0.189,0.024, 0.209,0.041, 0.239,0.064, 0.269,0.086, 0.32,0.098, 0.33,0.109, 0.35,0.166, 0.4,0.2, 0.42,0.234, 0.44,0.279, 0.45,0.336, 0.47,0.381, 0.51,0.381, 0.56,0.415, 0.592,0.421, 0.602,0.46, 0.612,0.495, 0.632,0.517, 0.642,0.563, 0.652,0.608, 0.682,0.631, 0.703,0.665, 0.733,0.688, 0.743,0.733, 0.793,0.756, 0.824,0.779, 0.844,0.824, 0.874,0.858, 0.894,0.869, 0.914,0.892, 0.935,0.938, 0.955,0.96, 0.975,0.994, 1,1],
];

const roc3d72 = [
  [0,0, 0.022,0.018, 0.073,0.052, 0.113,0.109, 0.129,0.166, 0.154,0.177, 0.194,0.188, 0.235,0.211, 0.275,0.245, 0.316,0.268, 0.356,0.291, 0.397,0.313, 0.437,0.319, 0.457,0.41, 0.498,0.41, 0.559,0.427, 0.6,0.449, 0.64,0.495, 0.68,0.54, 0.72,0.586, 0.751,0.631, 0.781,0.676, 0.903,0.676, 0.913,0.722, 0.928,0.869, 0.93,0.96, 0.964,0.994, 1,1],
  [0,0, 0.022,0.018, 0.053,0.052, 0.083,0.086, 0.113,0.12, 0.144,0.166, 0.174,0.188, 0.204,0.2, 0.245,0.222, 0.275,0.256, 0.296,0.291, 0.336,0.313, 0.377,0.324, 0.417,0.336, 0.457,0.37, 0.498,0.393, 0.528,0.438, 0.559,0.472, 0.589,0.495, 0.62,0.54, 0.64,0.586, 0.67,0.62, 0.7,0.665, 0.731,0.676, 0.791,0.688, 0.812,0.745, 0.832,0.779, 0.862,0.813, 0.883,0.835, 0.903,0.881, 0.933,0.926, 0.953,0.96, 0.984,0.983, 1,1],
  [0,0, 0.012,0.018, 0.032,0.041, 0.063,0.064, 0.093,0.098, 0.123,0.132, 0.144,0.137, 0.194,0.154, 0.215,0.177, 0.255,0.211, 0.285,0.222, 0.346,0.245, 0.366,0.291, 0.387,0.313, 0.427,0.342, 0.468,0.347, 0.498,0.393, 0.518,0.449, 0.559,0.483, 0.579,0.506, 0.61,0.563, 0.63,0.608, 0.66,0.642, 0.69,0.676, 0.72,0.71, 0.741,0.745, 0.781,0.779, 0.802,0.813, 0.832,0.846, 0.862,0.869, 0.893,0.904, 0.913,0.949, 0.943,0.972, 0.974,0.983, 1,1],
  [0,0, 0.022,0.007, 0.073,0.03, 0.113,0.052, 0.154,0.075, 0.204,0.086, 0.235,0.12, 0.255,0.166, 0.285,0.188, 0.316,0.234, 0.336,0.256, 0.356,0.268, 0.377,0.313, 0.417,0.336, 0.437,0.359, 0.468,0.381, 0.498,0.404, 0.528,0.438, 0.559,0.46, 0.579,0.483, 0.6,0.517, 0.62,0.563, 0.64,0.62, 0.69,0.676, 0.72,0.699, 0.741,0.722, 0.781,0.767, 0.812,0.801, 0.852,0.813, 0.872,0.835, 0.903,0.858, 0.933,0.892, 0.953,0.926, 0.974,0.972, 1,1],
  [0,0, 0.022,0.012, 0.093,0.018, 0.154,0.03, 0.184,0.052, 0.215,0.064, 0.255,0.098, 0.275,0.12, 0.316,0.154, 0.377,0.177, 0.387,0.234, 0.407,0.279, 0.417,0.336, 0.437,0.37, 0.478,0.381, 0.518,0.404, 0.559,0.427, 0.6,0.449, 0.62,0.472, 0.625,0.54, 0.64,0.563, 0.66,0.631, 0.68,0.642, 0.71,0.665, 0.741,0.722, 0.761,0.756, 0.781,0.801, 0.812,0.813, 0.842,0.835, 0.872,0.858, 0.903,0.881, 0.933,0.915, 0.953,0.949, 0.974,0.983, 1,1],
  [0,0, 0.093,0, 0.123,0.007, 0.174,0.018, 0.204,0.041, 0.235,0.064, 0.255,0.098, 0.296,0.12, 0.336,0.143, 0.356,0.177, 0.397,0.2, 0.437,0.234, 0.478,0.268, 0.508,0.324, 0.559,0.336, 0.6,0.359, 0.63,0.381, 0.64,0.427, 0.67,0.449, 0.7,0.495, 0.71,0.529, 0.741,0.54, 0.751,0.597, 0.781,0.62, 0.802,0.665, 0.832,0.722, 0.862,0.767, 0.893,0.79, 0.923,0.846, 0.943,0.904, 0.974,0.96, 1,1],
  [0,0, 0.053,0, 0.154,0.007, 0.204,0.03, 0.255,0.064, 0.296,0.098, 0.346,0.143, 0.387,0.166, 0.417,0.177, 0.437,0.2, 0.478,0.222, 0.518,0.245, 0.549,0.279, 0.589,0.302, 0.63,0.324, 0.65,0.37, 0.67,0.404, 0.7,0.449, 0.731,0.483, 0.751,0.517, 0.781,0.586, 0.802,0.631, 0.832,0.676, 0.852,0.745, 0.872,0.824, 0.903,0.858, 0.923,0.904, 0.953,0.938, 0.984,0.983, 1,1],
  [0,0, 0.113,0, 0.154,0.018, 0.204,0.041, 0.255,0.075, 0.285,0.086, 0.336,0.132, 0.366,0.154, 0.397,0.177, 0.417,0.211, 0.457,0.234, 0.498,0.256, 0.528,0.302, 0.559,0.324, 0.579,0.359, 0.61,0.381, 0.63,0.427, 0.65,0.46, 0.67,0.495, 0.7,0.517, 0.731,0.551, 0.751,0.586, 0.781,0.62, 0.812,0.676, 0.852,0.688, 0.883,0.722, 0.913,0.745, 0.943,0.756, 0.953,0.801, 0.964,0.881, 0.984,0.926, 0.994,0.96, 1,1],
  [0,0, 0.05,0, 0.103,0.018, 0.194,0.018, 0.204,0.052, 0.235,0.064, 0.255,0.075, 0.296,0.092, 0.336,0.092, 0.346,0.154, 0.356,0.177, 0.417,0.177, 0.437,0.2, 0.447,0.234, 0.468,0.279, 0.498,0.336, 0.528,0.342, 0.62,0.381, 0.63,0.449, 0.65,0.472, 0.67,0.517, 0.69,0.563, 0.71,0.608, 0.72,0.642, 0.761,0.676, 0.812,0.676, 0.832,0.722, 0.862,0.756, 0.883,0.79, 0.903,0.835, 0.923,0.858, 0.943,0.892, 0.953,0.938, 0.974,0.983, 1,1],
];

const panels = [roc1d24, roc1d48, roc1d72, roc2d24, roc2d48, roc2d72, roc3d24, roc3d48, roc3d72];

// ---------- styles (R palette / lty 3,4,5,6,1,2,3,4,5) ----------
const lineColors = ["#000000", "#FF0000", "#00CD00", "#0000FF", "#00FFFF", "#FF00FF", "#FFFF00", "#BEBEBE", "#000000"];
const lineDashes: any[] = [[2, 6], [2, 6, 8, 6], [14, 6], [4, 4, 12, 4], "solid", [8, 8], [2, 6], [2, 6, 8, 6], [14, 6]];

const FONT = '"Liberation Sans", Arial, Helvetica, sans-serif';
const COL_OFF = [0, 604, 1208];
const ROW_OFF = [0, 634, 1280];
const BOX_L = 126, BOX_T = 78, BOX_W = 403, BOX_H = 380;

function toPairs(flat: number[]): number[][] {
  const out: number[][] = [];
  for (let i = 0; i + 1 < flat.length; i += 2) out.push([flat[i], flat[i + 1]]);
  return out;
}

function buildOption() {
  const grid: any[] = [];
  const xAxis: any[] = [];
  const yAxis: any[] = [];
  const series: any[] = [];
  const graphic: any[] = [];

  panels.forEach((curves, p) => {
    const r = Math.floor(p / 3);
    const c = p % 3;
    const left = BOX_L + COL_OFF[c];
    const top = BOX_T + ROW_OFF[r];
    grid.push({ left, top, width: BOX_W, height: BOX_H, show: true, borderColor: "#000", borderWidth: 2, backgroundColor: "transparent" });
    const axisCommon = {
      type: "value",
      gridIndex: p,
      min: -0.04,
      max: 1.04,
      splitLine: { show: false },
      axisLine: { show: true, onZero: false, lineStyle: { color: "#000", width: 2 } },
      axisTick: { show: true, length: 16, lineStyle: { color: "#000", width: 2 }, customValues: tickValues },
    };
    xAxis.push({
      ...axisCommon,
      position: "bottom",
      axisLabel: { customValues: tickValues, formatter: (v: number) => v.toFixed(1), fontSize: 27, fontFamily: FONT, color: "#000", margin: 35 },
    });
    yAxis.push({
      ...axisCommon,
      position: "left",
      axisLabel: { customValues: tickValues, formatter: (v: number) => v.toFixed(1), fontSize: 27, fontFamily: FONT, color: "#000", margin: 35, rotate: 90 },
    });
    curves.forEach((flat, i) => {
      series.push({
        name: dayNames[i],
        type: "line",
        xAxisIndex: p,
        yAxisIndex: p,
        step: "start",
        data: toPairs(flat),
        showSymbol: false,
        symbol: "none",
        silent: true,
        lineStyle: { color: lineColors[i], width: 2, type: lineDashes[i], cap: "butt" },
      });
    });
    series.push({
      name: "diagonal",
      type: "line",
      xAxisIndex: p,
      yAxisIndex: p,
      data: [[-0.04, -0.04], [1.04, 1.04]],
      showSymbol: false,
      symbol: "none",
      silent: true,
      lineStyle: { color: "#000", width: 2.2, type: "solid" },
    });

    const cx = left + BOX_W / 2;
    const cy = top + BOX_H / 2;
    graphic.push({
      type: "text", x: cx, y: 17 + ROW_OFF[r], silent: true,
      style: { text: panelTitles[p], font: `bold 32px ${FONT}`, fill: "#000", align: "center", verticalAlign: "middle" },
    });
    graphic.push({
      type: "text", x: cx, y: 574 + ROW_OFF[r], silent: true,
      style: { text: xAxisTitle, font: `27px ${FONT}`, fill: "#000", align: "center", verticalAlign: "middle" },
    });
    graphic.push({
      type: "text", x: 15 + COL_OFF[c], y: cy, rotation: Math.PI / 2, silent: true,
      style: { text: yAxisTitle, font: `27px ${FONT}`, fill: "#000", align: "center", verticalAlign: "middle" },
    });
  });

  // legend (first panel only)
  dayNames.forEach((name, i) => {
    const y = 243.3 + 18.8 * i;
    graphic.push({
      type: "text", x: 421, y, silent: true, z: 10,
      style: { text: name, font: `25px ${FONT}`, fill: "#000", align: "center", verticalAlign: "middle" },
    });
    graphic.push({
      type: "line", silent: true, z: 10,
      shape: { x1: 459, y1: y, x2: 499, y2: y },
      style: { stroke: lineColors[i], lineWidth: 2, lineDash: lineDashes[i] === "solid" ? null : lineDashes[i] },
    });
  });

  return {
    animation: false,
    backgroundColor: "#ffffff",
    grid,
    xAxis,
    yAxis,
    series,
    graphic,
  };
}

export default function App() {
  const ref = useRef<HTMLDivElement>(null);
  useEffect(() => {
    if (!ref.current) return;
    const chart = echarts.init(ref.current, undefined, { renderer: "svg" });
    chart.setOption(buildOption() as any);
    return () => chart.dispose();
  }, []);
  return <div ref={ref} style={{ position: "absolute", left: 0, top: 0, width: 1772, height: 1872 }} />;
}
